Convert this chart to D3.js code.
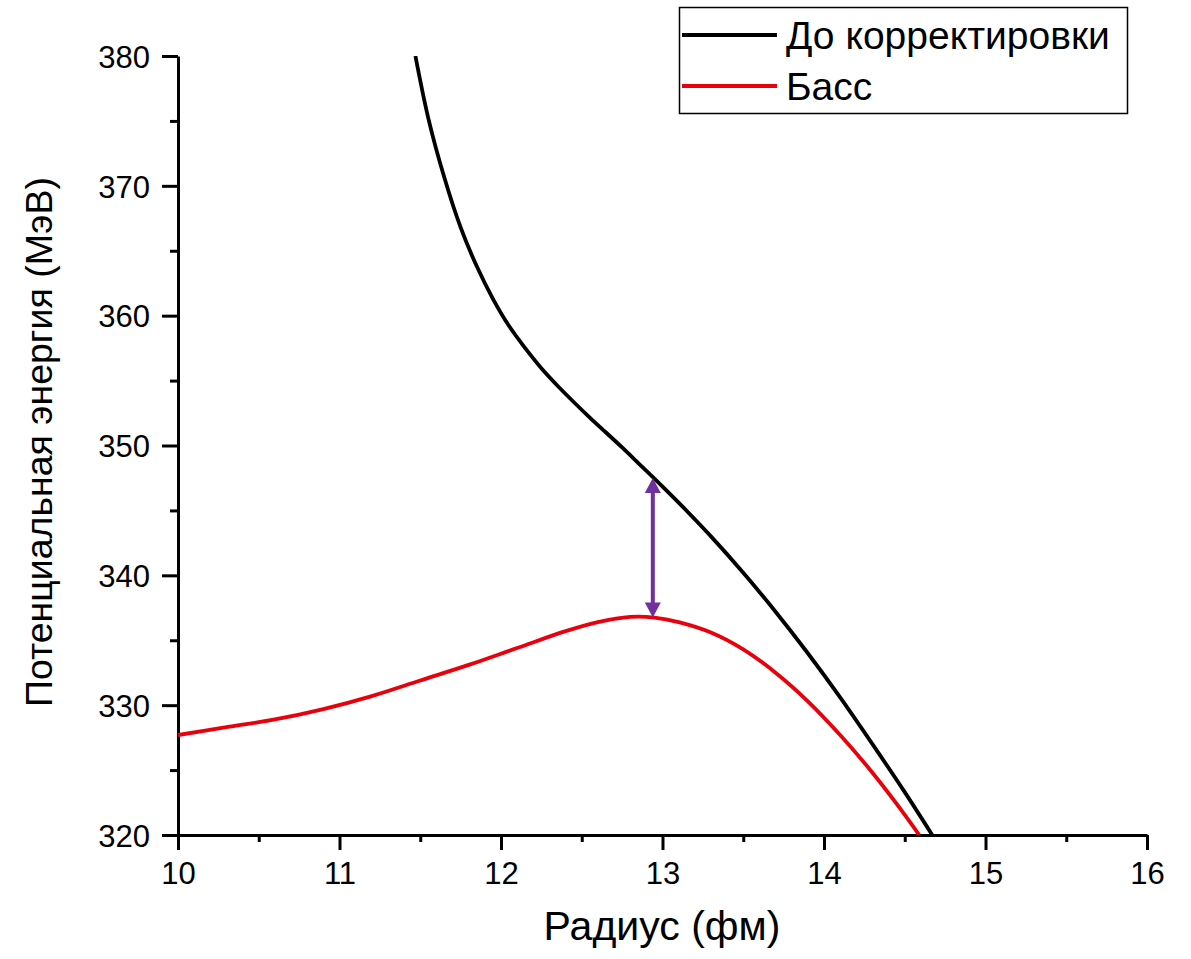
<!DOCTYPE html>
<html>
<head>
<meta charset="utf-8">
<script src="https://cdn.jsdelivr.net/npm/d3@7"></script>
<style>
  body { margin: 0; background: #fff; }
  svg text { font-family: Arial, "Liberation Sans", sans-serif; fill: #000; }
</style>
</head>
<body>
<div id="chart"></div>
<script>
// series: radius (fm) -> potential energy (MeV)
const beforeX = [11.47, 11.55, 11.65, 11.75, 11.85, 11.95, 12.05, 12.15, 12.25, 12.35, 12.45, 12.55, 12.65, 12.75, 12.85, 12.95, 13.1, 13.3, 13.5, 13.7, 13.9, 14.1, 14.3, 14.5, 14.67];
const beforeY = [380.0, 375.2, 370.6, 366.8, 363.8, 361.3, 359.2, 357.5, 355.95, 354.6, 353.35, 352.15, 351.0, 349.85, 348.65, 347.45, 345.6, 343.0, 340.2, 337.2, 334.0, 330.6, 327.0, 323.3, 320.0];
const bassX = [10.0, 10.3, 10.6, 10.9, 11.2, 11.5, 11.8, 12.1, 12.4, 12.6, 12.8, 12.95, 13.1, 13.3, 13.5, 13.7, 13.9, 14.1, 14.3, 14.45, 14.59];
const bassY = [327.7, 328.3, 328.9, 329.7, 330.7, 331.9, 333.1, 334.4, 335.7, 336.4, 336.8, 336.75, 336.4, 335.6, 334.3, 332.5, 330.3, 327.7, 324.8, 322.4, 320.0];
const seriesNames = ['До корректировки', 'Басс'];
const seriesColors = ['#000000', '#e8000b'];
const xTicks = [10, 11, 12, 13, 14, 15, 16];
const yTicks = [320, 330, 340, 350, 360, 370, 380];
// arrow showing the gap between the two curves
const arrowX = 12.94;
const arrowFrom = 347.5;
const arrowTo = 336.75;

const width = 1191, height = 959;
const margin = { top: 56, right: 44, bottom: 124, left: 178 };
const innerW = width - margin.left - margin.right;
const innerH = height - margin.top - margin.bottom;

const svg = d3.select('#chart').append('svg')
  .attr('width', width)
  .attr('height', height);

const plot = svg.append('g')
  .attr('transform', `translate(${margin.left},${margin.top})`);

const x = d3.scaleLinear().domain([10, 16]).range([0, innerW]);
const y = d3.scaleLinear().domain([320, 380]).range([innerH, 0]);

// minor ticks first, then major axis on top
const xMinor = d3.range(10.5, 16, 1);
const yMinor = d3.range(325, 380, 10);

plot.append('g')
  .attr('transform', `translate(0,${innerH})`)
  .call(d3.axisBottom(x).tickValues(xMinor).tickSize(7).tickFormat(''))
  .call(g => g.select('.domain').remove())
  .call(g => g.selectAll('line').attr('stroke-width', 3));

plot.append('g')
  .call(d3.axisLeft(y).tickValues(yMinor).tickSize(8).tickFormat(''))
  .call(g => g.select('.domain').remove())
  .call(g => g.selectAll('line').attr('stroke-width', 3));

const xAxis = plot.append('g')
  .attr('transform', `translate(0,${innerH})`)
  .call(d3.axisBottom(x).tickValues(xTicks).tickSize(15).tickSizeOuter(0).tickPadding(11).tickFormat(d3.format('d')));

const yAxis = plot.append('g')
  .call(d3.axisLeft(y).tickValues(yTicks).tickSize(16).tickSizeOuter(0).tickPadding(12).tickFormat(d3.format('d')));

[xAxis, yAxis].forEach(g => {
  g.select('.domain').attr('stroke-width', 3);
  g.selectAll('.tick line').attr('stroke-width', 3);
  g.selectAll('.tick text').style('font-size', '31px').attr('fill', '#000');
});
yAxis.selectAll('.tick text').attr('dy', '0.36em');
xAxis.selectAll('.tick text').attr('dy', '0.74em');

// clip curves to the plot area
plot.append('clipPath').attr('id', 'clip')
  .append('rect').attr('width', innerW).attr('height', innerH);

const line = d3.line()
  .x(d => x(d[0]))
  .y(d => y(d[1]))
  .curve(d3.curveCatmullRom);

const series = [d3.zip(beforeX, beforeY), d3.zip(bassX, bassY)];

plot.append('g').attr('clip-path', 'url(#clip)')
  .selectAll('path')
  .data(series)
  .enter().append('path')
    .attr('fill', 'none')
    .attr('stroke', (d, i) => seriesColors[i])
    .attr('stroke-width', 3.8)
    .attr('d', line);

// purple double-headed arrow
const purple = '#7030a0';
const ax = x(arrowX), ay1 = y(arrowFrom), ay2 = y(arrowTo);
plot.append('line')
  .attr('x1', ax).attr('x2', ax)
  .attr('y1', ay1 + 12).attr('y2', ay2 - 12)
  .attr('stroke', purple).attr('stroke-width', 4);
plot.append('path')
  .attr('d', `M${ax},${ay1} L${ax - 8},${ay1 + 15} L${ax + 8},${ay1 + 15} Z`)
  .attr('fill', purple);
plot.append('path')
  .attr('d', `M${ax},${ay2} L${ax - 8},${ay2 - 15} L${ax + 8},${ay2 - 15} Z`)
  .attr('fill', purple);

// axis titles
svg.append('text')
  .attr('x', 662)
  .attr('y', 940)
  .attr('text-anchor', 'middle')
  .style('font-size', '41px')
  .text('Радиус (фм)');

svg.append('text')
  .attr('transform', `translate(52,${442}) rotate(-90)`)
  .attr('text-anchor', 'middle')
  .style('font-size', '37.5px')
  .text('Потенциальная энергия (МэВ)');

// legend
const legend = svg.append('g');
legend.append('rect')
  .attr('x', 679.5).attr('y', 7.5)
  .attr('width', 448).attr('height', 106)
  .attr('fill', '#fff').attr('stroke', '#000').attr('stroke-width', 1.5);

seriesNames.forEach((name, i) => {
  const ly = 35 + i * 51;
  legend.append('line')
    .attr('x1', 682).attr('x2', 777)
    .attr('y1', ly).attr('y2', ly)
    .attr('stroke', seriesColors[i]).attr('stroke-width', 3.8);
  legend.append('text')
    .attr('x', 786).attr('y', ly + 13.5)
    .style('font-size', '39px')
    .text(name);
});
</script>
</body>
</html>
